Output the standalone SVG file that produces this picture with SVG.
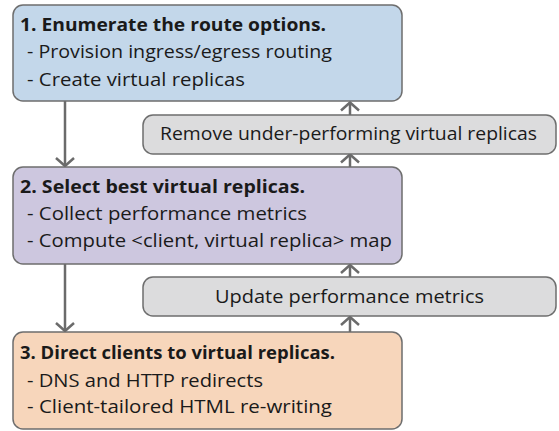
<svg xmlns="http://www.w3.org/2000/svg" width="559" height="431" viewBox="0 0 559 431">
<defs>
<style>
.box{stroke:#6e6e6e;stroke-width:1.5}
.t{font-family:"Open Sans","Noto Sans",sans-serif;font-size:18px;fill:#1a1a1a}
.b{font-weight:bold}
.c{stroke:#6b6b6b;stroke-width:2.5;fill:none}
</style>
<marker id="ah" markerUnits="userSpaceOnUse" viewBox="-12 -12 24 24" markerWidth="24" markerHeight="24" refX="0" refY="0" orient="auto">
<path d="M-8,-9 L0,0 L-8,9" fill="none" stroke="#6b6b6b" stroke-width="2.5"/>
</marker>
</defs>
<rect width="559" height="431" fill="#ffffff"/>
<g id="connectors">
<line class="c" x1="65" y1="101" x2="65" y2="166" marker-end="url(#ah)"/>
<line class="c" x1="65" y1="264" x2="65" y2="331" marker-end="url(#ah)"/>
<line class="c" x1="350" y1="115" x2="350" y2="102.5" marker-end="url(#ah)"/>
<line class="c" x1="350" y1="167" x2="350" y2="154.5" marker-end="url(#ah)"/>
<line class="c" x1="350" y1="277" x2="350" y2="265" marker-end="url(#ah)"/>
<line class="c" x1="350" y1="332" x2="350" y2="317" marker-end="url(#ah)"/>
</g>
<g id="step1">
<rect class="box" x="13" y="5" width="389" height="96" rx="10" fill="#c3d7ea"/>
<text class="t b" x="20" y="31" textLength="306" lengthAdjust="spacingAndGlyphs">1. Enumerate the route options.</text>
<text class="t" x="27" y="58" textLength="305" lengthAdjust="spacingAndGlyphs">- Provision ingress/egress routing</text>
<text class="t" x="27" y="86" textLength="218" lengthAdjust="spacingAndGlyphs">- Create virtual replicas</text>
</g>
<g id="remove">
<rect class="box" x="143" y="115" width="413" height="39" rx="10" fill="#dcdcdd"/>
<text class="t" x="348.5" y="140" text-anchor="middle" textLength="377" lengthAdjust="spacingAndGlyphs">Remove under-performing virtual replicas</text>
</g>
<g id="step2">
<rect class="box" x="13" y="167" width="389" height="97" rx="10" fill="#cdc7df"/>
<text class="t b" x="20" y="193" textLength="285" lengthAdjust="spacingAndGlyphs">2. Select best virtual replicas.</text>
<text class="t" x="27" y="220" textLength="280" lengthAdjust="spacingAndGlyphs">- Collect performance metrics</text>
<text class="t" x="27" y="247" textLength="365" lengthAdjust="spacingAndGlyphs">- Compute &lt;client, virtual replica&gt; map</text>
</g>
<g id="update">
<rect class="box" x="143" y="277" width="413" height="39" rx="10" fill="#dcdcdd"/>
<text class="t" x="349.5" y="303" text-anchor="middle" textLength="269" lengthAdjust="spacingAndGlyphs">Update performance metrics</text>
</g>
<g id="step3">
<rect class="box" x="13" y="332" width="389" height="97" rx="10" fill="#f7d6bb"/>
<text class="t b" x="20" y="359" textLength="315" lengthAdjust="spacingAndGlyphs">3. Direct clients to virtual replicas.</text>
<text class="t" x="27" y="387" textLength="236" lengthAdjust="spacingAndGlyphs">- DNS and HTTP redirects</text>
<text class="t" x="27" y="413" textLength="305" lengthAdjust="spacingAndGlyphs">- Client-tailored HTML re-writing</text>
</g>
</svg>
